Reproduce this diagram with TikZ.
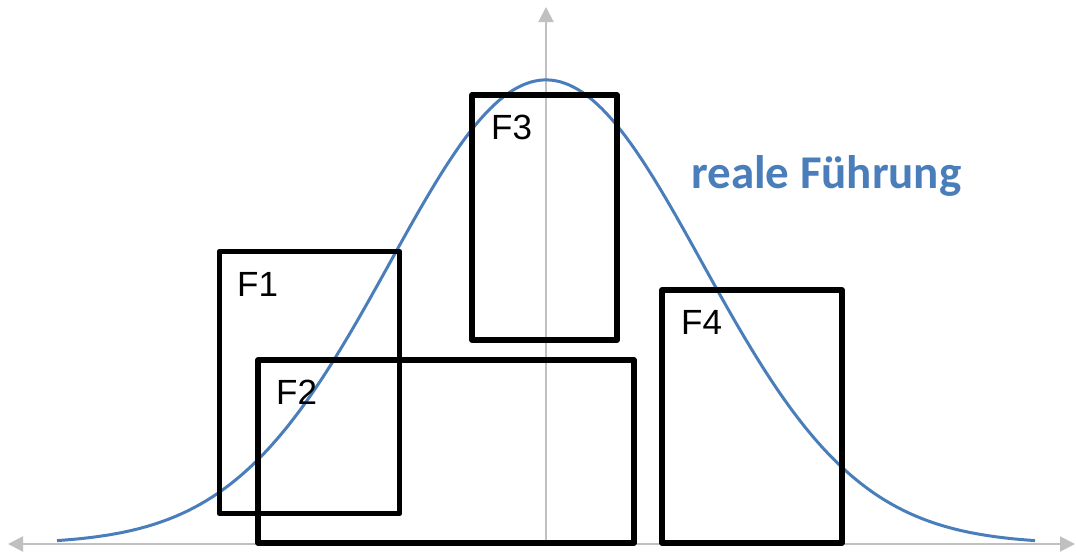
\documentclass[tikz,border=0pt]{standalone}
\usepackage{fontspec}
\setmainfont{Liberation Sans}
\newfontfamily\calfont{Carlito}
\usetikzlibrary{arrows.meta}
\definecolor{curveblue}{RGB}{74,126,187}
\definecolor{axisgray}{RGB}{192,192,192}
\tikzset{
  axisline/.style={draw=axisgray, line width=2pt, -{Triangle[length=15pt,width=15pt]}},
  fbox/.style={draw=black, line width=5.5pt, line join=round, inner sep=0pt, outer sep=0pt},
  flabel/.style={font=\fontsize{35}{35}\selectfont, anchor=base west, inner sep=0pt},
}
\begin{document}
\begin{tikzpicture}[x=1pt,y=-1pt]
\useasboundingbox (0,0) rectangle (1076,554);
% axes
\coordinate (o) at (546,544);
\coordinate (xl) at (8,544);
\coordinate (xr) at (1075,544);
\coordinate (yt) at (546,7);
\draw[axisline] (o) -- (xl);
\draw[axisline] (o) -- (xr);
\draw[axisline] (o) -- (yt);
% curve
\draw[curveblue, line width=3pt] plot[domain=57:1035, samples=240, smooth] (\x, {544-464*exp(-0.5*((\x-546)/156)^2)});
% boxes
\node[fbox, minimum width=180pt, minimum height=262pt] (F1) at (309.5,382.5) {};
\node[fbox, minimum width=376pt, minimum height=183pt] (F2) at (446,451.5) {};
\node[fbox, minimum width=145pt, minimum height=245pt] (F3) at (544.5,217.5) {};
\node[fbox, minimum width=180pt, minimum height=253pt] (F4) at (752,416.5) {};
% labels
\node[flabel] (l1) at (237,296) {F1};
\node[flabel] (l2) at (276,404) {F2};
\node[flabel] (l3) at (491,139) {F3};
\node[flabel] (l4) at (681,334) {F4};
\node[anchor=base west, inner sep=0pt, text=curveblue, font=\calfont\bfseries\fontsize{47}{47}\selectfont] (lab) at (691,188) {reale Führung};
\end{tikzpicture}
\end{document}
